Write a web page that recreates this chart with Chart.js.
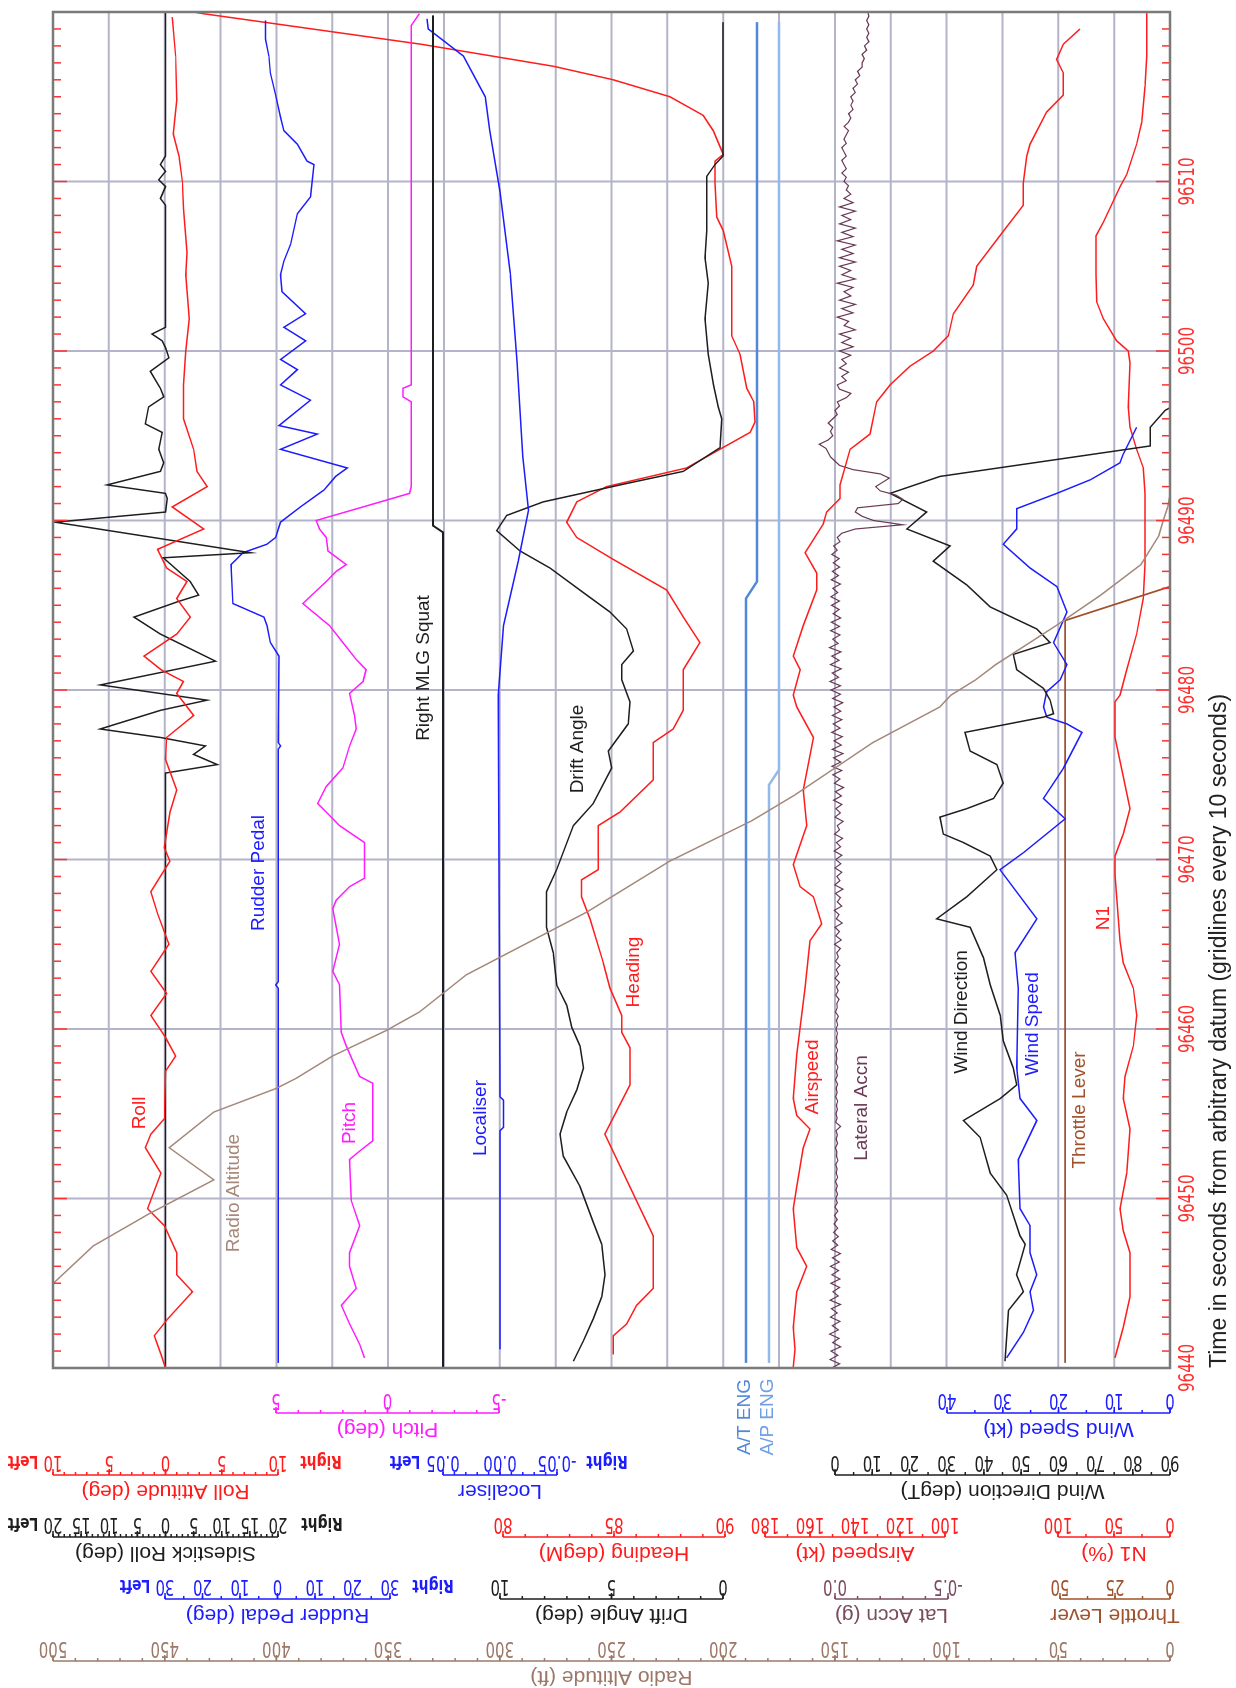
<!DOCTYPE html>
<html>
<head>
<meta charset="utf-8">
<script src="https://cdn.jsdelivr.net/npm/chart.js@4.4.1/dist/chart.umd.min.js"></script>
<style>
html,body{margin:0;padding:0;background:#fff;overflow:hidden;width:1236px;height:1688px}
#wrap{position:absolute;left:0;top:0;width:1688px;height:1236px;transform-origin:0 0;transform:translate(0,1688px) rotate(-90deg);background:#fff}
</style>
</head>
<body>
<div id="wrap"><canvas id="fdr" width="1688" height="1236"></canvas></div>
<script>
// FDR trace plot - drawn landscape (time along x), then turned a quarter turn with CSS
const el = id => document.getElementById(id);

// time axis (seconds from datum)
const tStart = 96440, tEnd = 96520;
const timeLabels = [96440, 96450, 96460, 96470, 96480, 96490, 96500, 96510];

// series: [time, value]
const radioAlt = [[96440,540],[96445.1,499],[96447.2,482],[96449.1,457],[96451.1,428],[96453.0,448],[96455.1,428],[96456.5,400],[96457.1,391],[96458.4,375],[96459.9,351],[96461.0,336],[96463.2,315],[96464.3,299],[96466.9,261],[96469.9,224],[96472.3,187],[96473.8,168],[96476.9,133],[96479.0,103],[96479.7,98],[96480.6,87],[96481.5,78],[96483.8,51],[96485.6,31],[96487.4,13],[96489.1,5],[96490.0,3],[96490.8,1],[96491.5,0]];
const roll = [[96440.0,0.0],[96440.8,-0.4],[96441.9,-1.0],[96442.9,0.2],[96444.5,2.4],[96445.5,1.0],[96446.8,1.0],[96448.4,-0.1],[96449.4,-1.6],[96451.5,-0.4],[96453.0,-1.8],[96453.8,-1.3],[96454.7,-0.1],[96457.5,0.0],[96458.4,0.9],[96459.5,0.0],[96460.8,-1.3],[96462.1,0.1],[96463.4,-1.3],[96465.0,0.3],[96466.8,-0.7],[96468.1,-1.3],[96469.9,0.4],[96470.7,-0.1],[96472.8,0.4],[96474.1,1.0],[96475.9,0.0],[96477.2,0.1],[96478.5,2.5],[96479.8,1.0],[96480.5,1.6],[96481.2,-0.4],[96482.0,-1.9],[96483.3,1.0],[96484.3,2.2],[96485.4,1.0],[96486.4,1.9],[96487.2,0.1],[96488.3,-0.7],[96489.5,3.4],[96490.8,0.6],[96492.0,3.7],[96492.9,2.8],[96494.2,2.5],[96496.0,1.6],[96498.0,1.6],[96500.0,1.8],[96501.9,2.1],[96504.5,1.8],[96505.8,1.9],[96508.4,1.6],[96510.0,1.5],[96511.5,1.2],[96512.8,0.7],[96514.8,1.0],[96517.4,0.9],[96519.7,0.6]];
const sidestick = [[96440,0],[96475.1,0],[96475.6,9.2],[96476.2,5.0],[96476.7,7.1],[96477.2,-0.9],[96477.7,-11.6],[96478.8,-0.9],[96479.4,7.4],[96480.3,-11.6],[96481.7,8.9],[96483.3,-0.9],[96484.3,-5.6],[96485.2,2.1],[96485.6,5.9],[96486.4,4.4],[96487.8,-0.4],[96488.1,15.1],[96489.9,-19.6],[96490.5,0],[96491.3,0.3],[96491.6,0],[96492.1,-10.4],[96492.9,-0.9],[96493.4,-0.3],[96494.2,-1.2],[96495.2,-0.6],[96495.7,-3.6],[96496.7,-3.0],[96497.3,-0.3],[96497.8,-0.9],[96498.8,-2.7],[96499.6,0.6],[96500.2,0],[96500.6,-0.6],[96501.0,-2.4],[96501.4,0],[96508.6,0],[96509.0,-0.9],[96509.7,0],[96510.1,-1.2],[96510.6,0],[96511.0,-0.9],[96511.5,0],[96520,0]];
const rudder = [[96440.3,0.2],[96462.4,0.2],[96462.6,-0.5],[96462.8,0.2],[96476.5,0.2],[96476.7,0.8],[96476.9,0.2],[96482.0,0.4],[96482.8,-1.9],[96483.8,-2.8],[96484.3,-3.6],[96485.1,-11.9],[96487.4,-12.4],[96487.7,-11.0],[96488.1,-9.2],[96488.6,-2.8],[96489.0,-0.5],[96489.9,0.8],[96490.8,6.1],[96491.8,12.4],[96492.6,15.5],[96493.1,18.6],[96494.2,0.8],[96495.1,10.6],[96495.6,0.4],[96497.1,8.8],[96498.0,0.8],[96498.9,5.3],[96499.5,0.8],[96500.6,7.5],[96501.4,1.7],[96502.2,7.5],[96503.5,1.2],[96504.5,0.8],[96505.3,1.7],[96506.3,3.5],[96508.1,5.3],[96509.1,8.8],[96511.0,9.7],[96511.2,7.9],[96512.2,5.3],[96513.0,1.7],[96513.8,0.8],[96515.1,-0.5],[96516.4,-1.9],[96517.4,-2.3],[96518.4,-3.2],[96519.5,-3.2]];
const pitch = [[96440.6,1.03],[96441.4,1.25],[96442.6,1.70],[96443.7,2.07],[96444.7,1.40],[96446.0,1.70],[96446.8,1.70],[96448.4,1.25],[96449.9,1.63],[96452.3,1.70],[96452.8,1.25],[96453.4,0.66],[96456.8,0.66],[96457.2,1.25],[96459.0,1.85],[96459.8,2.07],[96462.6,2.15],[96463.4,2.45],[96465.0,2.15],[96467.1,2.45],[96467.6,2.30],[96468.4,1.70],[96468.9,1.03],[96471.0,1.03],[96472.0,2.15],[96472.8,2.75],[96473.3,3.13],[96474.3,2.75],[96475.4,2.00],[96476.7,1.70],[96477.7,1.40],[96478.5,1.48],[96479.8,1.70],[96480.5,1.10],[96481.2,0.96],[96481.8,1.40],[96482.8,2.00],[96483.8,2.60],[96485.1,3.80],[96486.4,2.75],[96487.0,2.30],[96487.4,1.85],[96488.2,2.67],[96489.0,2.75],[96489.5,3.05],[96490.0,3.20],[96490.8,1.10],[96491.6,-0.99],[96492.0,-1.06],[96497.0,-1.06],[96497.3,-0.69],[96497.8,-0.69],[96498.0,-1.06],[96519.2,-1.06],[96519.9,-1.43]];
const mlgSquat = [[96440,0],[96489.3,0],[96489.7,1],[96519.8,1]];
const localiser = [[96441.1,0],[96454.0,0],[96454.2,-0.003],[96455.8,-0.003],[96456.0,0],[96479.7,0.0015],[96483.8,-0.003],[96487.6,-0.016],[96490.6,-0.025],[96493.8,-0.020],[96499.4,-0.015],[96504.6,-0.009],[96509.4,0],[96513.0,0.009],[96515.0,0.013],[96517.4,0.032],[96519.0,0.063],[96519.6,0.064]];
const drift = [[96440.4,6.71],[96441.6,6.26],[96442.9,5.82],[96444.2,5.44],[96445.5,5.29],[96447.3,5.44],[96448.6,5.82],[96450.7,6.41],[96452.5,7.16],[96453.8,7.31],[96455.1,7.01],[96456.4,6.56],[96457.7,6.26],[96459.0,6.41],[96460.1,6.78],[96461.4,7.01],[96462.6,7.46],[96464.5,7.61],[96466.0,7.91],[96468.1,7.91],[96469.4,7.46],[96472.0,6.71],[96473.3,5.82],[96475.4,4.99],[96476.4,5.14],[96478.0,4.25],[96479.3,4.17],[96480.6,4.54],[96481.5,4.54],[96482.3,4.02],[96483.6,4.32],[96484.6,5.07],[96485.6,6.11],[96487.2,7.76],[96488.2,9.10],[96489.4,10.15],[96490.3,9.70],[96491.1,8.06],[96492.1,4.62],[96492.9,1.78],[96494.3,0.13],[96496.0,0.06],[96496.7,0.21],[96498.0,0.43],[96499.8,0.66],[96501.9,0.81],[96504.0,0.66],[96505.5,0.81],[96507.1,0.73],[96510.3,0.73],[96511.0,0.36],[96511.5,0],[96519.4,0]];
const heading = [[96440.8,84.97],[96441.9,84.97],[96442.6,85.57],[96443.7,86.02],[96444.7,86.77],[96447.8,86.77],[96453.8,84.59],[96456.7,85.72],[96458.9,85.72],[96459.8,85.35],[96460.8,85.35],[96462.4,84.82],[96463.9,84.52],[96466.5,83.92],[96467.8,83.54],[96468.8,83.54],[96469.4,84.29],[96472.0,84.29],[96472.8,85.27],[96474.7,86.77],[96476.9,86.77],[96477.7,87.67],[96478.8,88.12],[96481.2,88.12],[96482.8,88.87],[96484.3,88.12],[96485.9,87.37],[96487.7,84.97],[96489.0,83.32],[96489.9,82.87],[96491.1,83.32],[96492.0,84.67],[96493.1,88.27],[96494.2,89.77],[96495.2,91.13],[96495.8,91.35],[96497.0,91.3],[96497.8,90.98],[96499.8,90.68],[96500.9,90.30],[96505.0,90.30],[96507.1,89.92],[96507.9,89.63],[96509.9,89.55],[96511.2,89.55],[96511.6,89.92],[96513.0,89.47],[96513.9,89.02],[96515.0,87.52],[96516.0,84.97],[96516.8,82.27],[96518.1,76.3],[96519.9,66.5],[96520.4,64.3]];
const atEng = [[96440.3,1],[96485.4,1],[96486.4,0],[96519.4,0]];
const apEng = [[96440.3,1],[96474.4,1],[96475.3,0],[96519.4,0]];
const airspeed = [[96440.05,167.4],[96441.1,166.7],[96442.4,167.4],[96444.5,165.9],[96446.0,161.5],[96447.1,165.9],[96449.4,167.4],[96450.7,165.9],[96453.0,163.0],[96454.1,160.0],[96454.9,165.9],[96455.9,167.4],[96458.5,165.9],[96462.4,162.2],[96465.2,160.0],[96466.2,154.8],[96467.8,158.5],[96468.4,164.4],[96469.7,167.4],[96472.0,161.5],[96474.1,163.0],[96477.2,158.5],[96479.0,165.9],[96479.7,167.4],[96481.2,164.4],[96482.0,167.4],[96483.8,163.0],[96485.9,157.0],[96486.9,157.0],[96488.1,162.2],[96489.8,154.1],[96490.5,152.6],[96491.3,146.7],[96492.1,146.7],[96494.2,142.2],[96495.1,133.3],[96497.0,130.4],[96498.0,124.4],[96499.1,115.6],[96500.0,105.2],[96500.9,98.5],[96502.2,96.3],[96503.9,87.4],[96505.0,85.9],[96506.8,75.6],[96508.6,65.2],[96509.9,65.2],[96511.5,63.7],[96512.2,62.2],[96514.1,54.8],[96515.1,47.4],[96516.4,47.4],[96517.2,50.4],[96518.1,47.4],[96519.0,40.0]];
// lateral acceleration is sampled at a fixed rate
const latAccnStart = 96440, latAccnRate = 4;
const latAccn = [
  0.015,-0.020,0.022,-0.012,0.018,-0.025,0.010,-0.018,0.024,-0.015,0.012,-0.022,0.020,-0.010,0.016,-0.024,0.021,-0.014,0.009,-0.020,
  0.018,-0.022,0.014,-0.016,0.020,-0.019,0.011,-0.024,0.017,-0.012,0.010,-0.015,0.006,-0.012,0.004,-0.010,0.002,-0.012,0.000,-0.010,
  -0.003,-0.011,-0.004,-0.010,-0.002,-0.012,-0.005,-0.009,-0.003,-0.013,-0.006,-0.008,-0.002,-0.011,-0.005,-0.010,-0.004,-0.025,-0.003,-0.009,
  -0.004,-0.010,-0.006,-0.012,-0.003,-0.009,-0.005,-0.011,-0.002,-0.010,-0.006,-0.013,-0.004,-0.008,-0.005,-0.012,-0.003,-0.010,-0.006,-0.011,
  -0.004,-0.012,-0.006,-0.015,-0.002,-0.010,-0.008,-0.018,-0.003,-0.014,-0.006,-0.020,0.000,-0.016,-0.005,-0.022,-0.002,-0.015,-0.008,-0.024,
  0.002,-0.028,-0.004,-0.020,0.000,-0.032,-0.006,-0.018,0.003,-0.030,-0.010,-0.024,-0.002,-0.035,0.001,-0.022,-0.008,-0.030,0.000,-0.026,
  -0.003,-0.030,0.004,-0.025,-0.006,-0.034,0.002,-0.020,-0.010,-0.036,0.000,-0.024,-0.004,-0.030,0.006,-0.028,-0.002,-0.038,0.003,-0.022,
  0.010,-0.030,0.014,-0.025,0.006,-0.035,0.012,-0.028,0.004,-0.032,0.015,-0.022,0.008,-0.030,0.012,-0.026,0.005,-0.034,0.010,-0.024,
  0.018,-0.024,0.022,-0.016,0.012,-0.028,0.020,-0.018,0.014,-0.026,0.024,-0.014,0.010,-0.022,0.019,-0.020,0.016,-0.025,0.008,-0.018,
  0.015,-0.020,0.018,-0.012,0.010,-0.024,0.016,-0.015,0.012,-0.020,0.008,-0.018,0.014,-0.010,0.006,-0.022,-0.010,-0.030,-0.090,-0.300,
  -0.170,-0.120,-0.090,-0.100,-0.280,-0.300,-0.270,-0.200,-0.180,-0.210,-0.240,-0.200,-0.080,-0.020,0.000,0.020,0.030,0.040,0.070,0.030,
  0.010,0.020,0.010,0.030,0.010,-0.010,0.000,-0.020,-0.010,-0.050,-0.070,-0.020,-0.010,-0.050,-0.030,-0.060,-0.020,-0.050,-0.030,-0.070,
  -0.020,-0.080,-0.030,-0.070,-0.020,-0.090,-0.040,-0.060,-0.010,-0.080,-0.030,-0.090,-0.020,-0.070,-0.040,-0.080,-0.010,-0.090,-0.030,-0.070,
  -0.020,-0.090,-0.020,-0.080,-0.030,-0.090,-0.010,-0.080,-0.030,-0.090,-0.020,-0.070,-0.030,-0.090,-0.020,-0.080,-0.040,-0.070,-0.050,-0.060,
  -0.040,-0.050,-0.030,-0.050,-0.040,-0.030,-0.050,-0.040,-0.030,-0.050,-0.040,-0.050,-0.060,-0.040,-0.060,-0.070,-0.060,-0.080,-0.070,-0.080,
  -0.070,-0.090,-0.080,-0.100,-0.090,-0.110,-0.100,-0.120,-0.120,-0.130,-0.120,-0.140,-0.130,-0.150,-0.140,-0.150,-0.140,-0.150,-0.140,-0.150,
  -0.145
];
const windDir = [[96440.4,45.7],[96443.4,46.6],[96444.5,50.6],[96445.5,48.8],[96447.3,51.1],[96447.8,49.7],[96450.2,46.1],[96451.5,41.7],[96453.6,39.0],[96454.6,34.5],[96455.9,44.4],[96456.7,48.8],[96457.7,47.9],[96459.3,45.2],[96460.8,44.4],[96462.6,41.7],[96464.2,39.9],[96466.0,36.3],[96466.5,27.3],[96467.8,35.4],[96469.4,43.5],[96470.2,41.7],[96471.0,34.5],[96471.5,29.1],[96472.5,28.2],[96473.0,35.4],[96473.6,42.6],[96474.5,45.2],[96475.6,43.5],[96476.4,36.3],[96477.5,34.9],[96478.4,56.0],[96478.6,58.7],[96479.4,57.8],[96480.1,56.0],[96481.2,48.8],[96482.1,47.9],[96482.8,57.8],[96483.6,54.2],[96484.9,41.7],[96486.2,35.4],[96487.6,26.4],[96488.5,30.9],[96489.5,19.3],[96490.5,24.6],[96491.6,14.8],[96492.6,28.2],[96494.4,84.7],[96495.5,84.7],[96496.5,88.7],[96497.0,93]];
const windSpd = [[96440.6,29.3],[96442.1,26.3],[96443.4,24.5],[96444.5,25.1],[96445.5,23.9],[96446.8,25.1],[96448.4,25.1],[96449.4,26.9],[96452.3,27.2],[96454.6,23.9],[96455.9,26.9],[96457.7,27.5],[96462.4,27.2],[96464.5,27.8],[96466.5,23.9],[96469.4,30.5],[96470.4,26.3],[96472.4,18.8],[96473.6,22.7],[96475.4,19.1],[96477.5,15.8],[96478.0,18.5],[96478.4,22.1],[96479.0,22.7],[96479.9,22.1],[96480.6,19.7],[96481.5,18.5],[96482.8,20.9],[96484.6,18.5],[96486.1,20.3],[96487.2,25.1],[96488.6,29.9],[96489.5,27.5],[96490.7,27.5],[96491.6,20.3],[96492.4,14.3],[96493.4,9.0],[96493.9,8.4],[96495.5,6.0]];
const throttle = [[96440.3,47.7],[96484.1,47.7],[96486.1,0],[96490.0,0]];
const n1 = [[96440.6,49.1],[96442.4,41.7],[96444.2,35.7],[96446.8,35.7],[96448.1,41.7],[96449.4,44.6],[96451.5,38.7],[96454.1,35.7],[96455.9,41.7],[96457.2,40.2],[96459.0,32.7],[96460.8,29.8],[96462.4,32.7],[96463.9,41.7],[96465.2,44.6],[96469.1,49.1],[96470.2,49.1],[96471.5,41.7],[96473.0,35.7],[96474.9,41.7],[96477.2,49.1],[96479.3,49.1],[96479.7,44.6],[96481.2,38.7],[96483.3,29.8],[96485.4,23.8],[96487.4,22.3],[96491.6,22.3],[96493.1,23.8],[96494.2,29.8],[96495.5,35.7],[96496.7,37.2],[96499.3,35.7],[96500.0,37.2],[96500.6,47.6],[96501.9,59.5],[96502.9,65.5],[96504.5,66.1],[96506.8,66.1],[96507.6,59.5],[96509.7,44.6],[96510.4,38.7],[96512.2,29.8],[96513.5,25.3],[96515.6,22.3],[96517.4,20.8],[96520,20.8]];

// scale tick values for the rulers under the plot
const pitchTicks = [5, 0, -5];
const windSpdTicks = [40, 30, 20, 10, 0];
const rollTicks = [-10, -5, 0, 5, 10];
const locTicks = [0.05, 0, -0.05];
const windDirTicks = [0, 10, 20, 30, 40, 50, 60, 70, 80, 90];
const stickTicks = [-20, -15, -10, -5, 0, 5, 10, 15, 20];
const headingTicks = [80, 85, 90];
const airspeedTicks = [180, 160, 140, 120, 100];
const n1Ticks = [100, 50, 0];
const rudderTicks = [-30, -20, -10, 0, 10, 20, 30];
const driftTicks = [10, 5, 0];
const latTicks = [0, -0.5];
const throttleTicks = [50, 25, 0];
const radioTicks = [500, 450, 400, 350, 300, 250, 200, 150, 100, 50, 0];

// ---- layout (canvas is landscape: x = time, y = across the page) ----
const AREA = {left: 320, right: 1676, top: 53, bottom: 1170};
// where each parameter band sits: [value, px, value, px]
const place = {
  radio: [500, 53, 0, 1170],
  roll: [-10, 53, 10, 278],
  stick: [-20, 53, 20, 278],
  rudder: [-30, 165, 30, 390],
  pitch: [5, 276, -5, 499],
  squat: [0, 443, 1, 433],
  loc: [0.05, 443, -0.05, 557],
  heading: [80, 503, 90, 725],
  drift: [10, 500, 0, 723],
  atEng: [1, 746, 0, 757],
  apEng: [1, 769, 0, 779],
  airspeed: [180, 765, 100, 945],
  lat: [0, 835, -0.5, 948],
  windDir: [0, 835, 90, 1170],
  windSpd: [40, 947, 0, 1170],
  n1: [100, 1058, 0, 1170],
  throttle: [50, 1060, 0, 1170]
};

const C = {
  red:'#ff1c1c', blue:'#1c1cff', magenta:'#ff1cff', black:'#1e1e1e', brown:'#a5887b',
  purple:'#6a3a55', sienna:'#a0522d', atEng:'#5288da', apEng:'#93b8ea',
  grid:'#b3b3ca', frame:'#7a7a7a', tick:'#ff3030', radioRuler:'#9c7868', latRuler:'#7a4c60'
};
const NARROW = "'Liberation Sans Narrow', 'DejaVu Sans Condensed', sans-serif";
const SANS = "'Liberation Sans', Arial, sans-serif";

function axisFor(id){
  const [v0, p0, v1, p1] = place[id];
  const s = (p1 - p0) / (v1 - v0);
  const a = v0 + (AREA.top - p0) / s, b = v0 + (AREA.bottom - p0) / s;
  return {type:'linear', axis:'y', position:'left', display:false, bounds:'data',
          min:Math.min(a, b), max:Math.max(a, b), reverse: s > 0};
}

const pts = arr => arr.map(([t, v]) => ({x:t, y:v}));
const latPts = latAccn.map((v, i) => ({x: latAccnStart + i / latAccnRate, y: v}));

const series = [
  {data: pts(radioAlt), axis:'radio', color:C.brown, w:1.5},
  {data: pts(roll), axis:'roll', color:C.red, w:1.5},
  {data: pts(sidestick), axis:'stick', color:C.black, w:1.5},
  {data: pts(rudder), axis:'rudder', color:C.blue, w:1.5},
  {data: pts(pitch), axis:'pitch', color:C.magenta, w:1.5},
  {data: pts(mlgSquat), axis:'squat', color:C.black, w:2},
  {data: pts(localiser), axis:'loc', color:C.blue, w:1.5},
  {data: pts(drift), axis:'drift', color:C.black, w:1.5},
  {data: pts(heading), axis:'heading', color:C.red, w:1.5},
  {data: pts(atEng), axis:'atEng', color:C.atEng, w:2.5},
  {data: pts(apEng), axis:'apEng', color:C.apEng, w:2.5},
  {data: pts(airspeed), axis:'airspeed', color:C.red, w:1.5},
  {data: latPts, axis:'lat', color:C.purple, w:1.2},
  {data: pts(windDir), axis:'windDir', color:C.black, w:1.5},
  {data: pts(windSpd), axis:'windSpd', color:C.blue, w:1.5},
  {data: pts(throttle), axis:'throttle', color:C.sienna, w:1.8},
  {data: pts(n1), axis:'n1', color:C.red, w:1.5}
];

// rulers under the plot (row = x position of the ruler line on the canvas)
const rulers = [
  {axis:'pitch', row:275, ticks:pitchTicks, minor:1, color:C.magenta, title:'Pitch (deg)'},
  {axis:'windSpd', row:275, ticks:windSpdTicks, minor:5, color:C.blue, title:'Wind Speed (kt)'},
  {axis:'roll', row:213, ticks:rollTicks, minor:1, color:C.red, title:'Roll Attitude (deg)', abs:true, words:[-30, 43]},
  {axis:'loc', row:213, ticks:locTicks, minor:0.01, color:C.blue, title:'Localiser', dec:2, words:[-38, 50]},
  {axis:'windDir', row:213, ticks:windDirTicks, minor:5, color:C.black, title:'Wind Direction (degT)'},
  {axis:'stick', row:151, ticks:stickTicks, minor:1, color:C.black, title:'Sidestick Roll (deg)', abs:true, words:[-30, 44]},
  {axis:'heading', row:151, ticks:headingTicks, minor:1, color:C.red, title:'Heading (degM)'},
  {axis:'airspeed', row:151, ticks:airspeedTicks, minor:10, color:C.red, title:'Airspeed (kt)'},
  {axis:'n1', row:151, ticks:n1Ticks, minor:25, color:C.red, title:'N1 (%)'},
  {axis:'rudder', row:89, ticks:rudderTicks, minor:5, color:C.blue, title:'Rudder Pedal (deg)', abs:true, words:[-30, 43]},
  {axis:'drift', row:89, ticks:driftTicks, minor:1, color:C.black, title:'Drift Angle (deg)'},
  {axis:'lat', row:89, ticks:latTicks, minor:0.1, color:C.latRuler, title:'Lat Accn (g)', dec:1},
  {axis:'throttle', row:89, ticks:throttleTicks, minor:12.5, color:C.sienna, title:'Throttle Lever'},
  {axis:'radio', row:27, ticks:radioTicks, minor:10, color:C.radioRuler, title:'Radio Altitude (ft)'}
];

// trace names, canvas coords
const names = [
  ['Roll', 575, 140, C.red], ['Radio Altitude', 495, 234, C.brown], ['Pitch', 565, 350, C.magenta],
  ['Rudder Pedal', 815, 259, C.blue], ['Right MLG Squat', 1020, 424, C.black], ['Localiser', 570, 481, C.blue],
  ['Drift Angle', 939, 578, C.black], ['Heading', 716, 634, C.red], ['Airspeed', 611, 813, C.red],
  ['Lateral Accn', 580, 862, C.purple], ['Wind Direction', 676, 962, C.black], ['Wind Speed', 664, 1033, C.blue],
  ['Throttle Lever', 578, 1080, C.sienna], ['N1', 770, 1104, C.red],
  ['A/T ENG', 271, 745, C.atEng], ['A/P ENG', 271, 768, '#6f9fe4']
];

function txt(ctx, s, x, y, o){
  ctx.save();
  ctx.translate(x, y);
  if (o.rot) ctx.rotate(o.rot);
  if (o.sx) ctx.scale(o.sx, 1);
  ctx.font = o.font; ctx.fillStyle = o.color;
  ctx.textAlign = o.align || 'center'; ctx.textBaseline = 'middle';
  ctx.fillText(s, 0, 0);
  ctx.restore();
}
function seg(ctx, x0, y0, x1, y1){ ctx.beginPath(); ctx.moveTo(x0, y0); ctx.lineTo(x1, y1); ctx.stroke(); }

function drawRuler(ctx, chart, r){
  const sc = chart.scales[r.axis];
  const from = r.ticks[0], to = r.ticks[r.ticks.length - 1];
  const y0 = sc.getPixelForValue(from), y1 = sc.getPixelForValue(to);
  const UP = -Math.PI / 2;
  ctx.strokeStyle = r.color; ctx.lineWidth = 1.5;
  seg(ctx, r.row, y0, r.row, y1);
  const lo = Math.min(from, to), n = Math.round(Math.abs(to - from) / r.minor);
  for (let i = 0; i <= n; i++){
    const y = sc.getPixelForValue(lo + i * r.minor);
    seg(ctx, r.row, y, r.row + 3, y);
  }
  r.ticks.forEach(v => {
    const y = sc.getPixelForValue(v);
    seg(ctx, r.row, y, r.row + 6, y);
    const s = r.abs ? String(Math.abs(v)) : (r.dec ? v.toFixed(r.dec) : String(v));
    txt(ctx, s, r.row + 14, y, {rot:UP, sx:0.8, font:'21px ' + NARROW, color:r.color});
  });
  txt(ctx, r.title, r.row - 16, (y0 + y1) / 2, {rot:UP, font:'21px ' + SANS, color:r.color});
  if (r.words){
    txt(ctx, 'Left', r.row + 14, y0 + r.words[0], {rot:UP, sx:0.85, font:'bold 18px ' + NARROW, color:r.color});
    txt(ctx, 'Right', r.row + 14, y1 + r.words[1], {rot:UP, sx:0.85, font:'bold 18px ' + NARROW, color:r.color});
  }
}

const fdrPlugin = {
  id:'fdr',
  beforeDatasetsDraw(chart){
    const ctx = chart.ctx, x = chart.scales.x, ra = chart.scales.radio, a = chart.chartArea;
    ctx.save();
    ctx.strokeStyle = C.grid; ctx.lineWidth = 2;
    for (let v = 25; v < 500; v += 25){ const y = ra.getPixelForValue(v); seg(ctx, a.left, y, a.right, y); }
    for (let t = tStart + 10; t < tEnd; t += 10){ const px = x.getPixelForValue(t); seg(ctx, px, a.top, px, a.bottom); }
    ctx.restore();
  },
  afterDatasetsDraw(chart){
    const ctx = chart.ctx, x = chart.scales.x, a = chart.chartArea;
    ctx.save();
    // time ticks on both long edges
    ctx.strokeStyle = C.tick; ctx.lineWidth = 1.5;
    for (let t = tStart; t <= tEnd; t++){
      const px = x.getPixelForValue(t), len = (t % 10 === 0) ? 14 : 8;
      seg(ctx, px, a.top, px, a.top + len);
      seg(ctx, px, a.bottom, px, a.bottom - len);
    }
    ctx.strokeStyle = C.frame; ctx.lineWidth = 2.5;
    ctx.strokeRect(a.left, a.top, a.right - a.left, a.bottom - a.top);
    timeLabels.forEach(t => txt(ctx, String(t), x.getPixelForValue(t), a.bottom + 19, {sx:0.8, font:'21px ' + NARROW, color:C.tick}));
    txt(ctx, 'Time in seconds from arbitrary datum (gridlines every 10 seconds)', a.left, a.bottom + 50,
        {align:'left', font:'23px ' + SANS, color:'#222'});
    names.forEach(([s, nx, ny, col]) => txt(ctx, s, nx, ny, {font:'19px ' + SANS, color:col}));
    rulers.forEach(r => drawRuler(ctx, chart, r));
    ctx.restore();
  }
};

const scales = {x:{type:'linear', axis:'x', position:'bottom', display:false, bounds:'data', min:tStart, max:tEnd}};
Object.keys(place).forEach(id => { scales[id] = axisFor(id); });

new Chart(el('fdr').getContext('2d'), {
  type:'scatter',
  data:{datasets: series.map(s => ({
    data:s.data, xAxisID:'x', yAxisID:s.axis, showLine:true, borderColor:s.color, borderWidth:s.w,
    pointRadius:0, pointHoverRadius:0, tension:0, fill:false
  }))},
  options:{
    responsive:false, animation:false, devicePixelRatio:1, events:[],
    layout:{padding:{left:AREA.left, right:1688 - AREA.right, top:AREA.top, bottom:1236 - AREA.bottom}},
    plugins:{legend:{display:false}, tooltip:{enabled:false}},
    scales
  },
  plugins:[fdrPlugin]
});
</script>
</body>
</html>
